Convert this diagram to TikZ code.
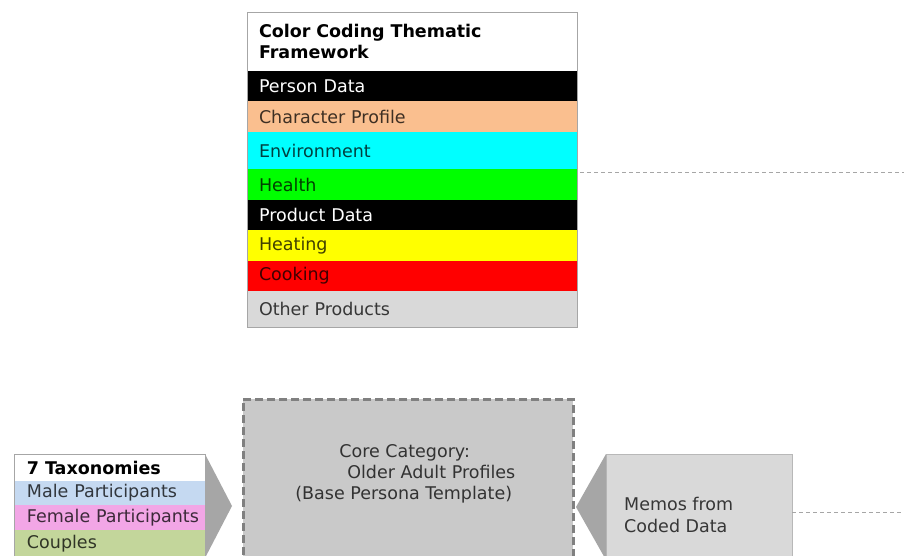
\documentclass[tikz,border=0pt]{standalone}
\usepackage{fontspec}
\setmainfont{DejaVu Sans}
\usetikzlibrary{positioning,calc}
\hyphenpenalty=10000
\exhyphenpenalty=10000
\definecolor{codepeach}{RGB}{250,191,143}
\definecolor{codecyan}{RGB}{0,255,255}
\definecolor{codegreen}{RGB}{0,255,0}
\definecolor{codeyellow}{RGB}{255,255,0}
\definecolor{codered}{RGB}{255,0,0}
\definecolor{codegrey}{RGB}{217,217,217}
\definecolor{taxblue}{RGB}{197,217,241}
\definecolor{taxpink}{RGB}{242,166,230}
\definecolor{taxgreen}{RGB}{195,214,155}
\definecolor{corefill}{RGB}{201,201,201}
\definecolor{coreedge}{RGB}{128,128,128}
\definecolor{chevgrey}{RGB}{166,166,166}
\newcommand{\coderow}[6]{%
 \node[coderow, fill={#3}, minimum height={#4}, #5, below=0pt of {#2}] ({#1}) {#6};%
}
\newcommand{\taxrow}[5]{%
 \node[taxrow, fill={#3}, minimum height={#4}, below=0pt of {#2}] ({#1}) {\hspace*{13pt}#5};%
}

\begin{document}
\begin{tikzpicture}[x=1pt,y=-1pt,
  font=\fontsize{17.5pt}{21pt}\selectfont,
  darktext/.style={text=black, text opacity=.75},
  coderow/.style={text width=306pt, inner xsep=12pt, inner ysep=0pt, outer sep=0pt, align=left},
  taxrow/.style={text width=191pt, inner xsep=0pt, inner ysep=0pt, outer sep=0pt, align=left, darktext},
  tableedge/.style={draw=chevgrey, line width=.8pt},
  chevron/.style={fill=chevgrey},
  corebox/.style={fill=corefill, draw=coreedge, line width=2.6pt, dash pattern=on 8pt off 4pt},
  memobox/.style={fill=codegrey, draw=chevgrey!80, line width=.8pt, outer sep=0pt},
  memotext/.style={inner sep=0pt, align=left, darktext, font=\fontsize{17.5pt}{22pt}\selectfont},
  linkline/.style={draw=chevgrey, line width=.8pt, dash pattern=on 4pt off 3pt}]
   \clip (0,0) rectangle (904,556);
   \fill[white] (0,0) rectangle (904,556);
   % colour coding table
   \node[coderow, anchor=north west, minimum height=59pt, font=\fontsize{17.5pt}{21pt}\selectfont\bfseries] (colorhead) at (247,12) {Color Coding Thematic Framework};
   \coderow{person}{colorhead}{black}{30pt}{text=white}{Person Data}
   \coderow{character}{person}{codepeach}{31pt}{darktext}{Character Profile}
   \coderow{environment}{character}{codecyan}{37pt}{darktext}{Environment}
   \coderow{health}{environment}{codegreen}{31pt}{darktext}{Health}
   \coderow{product}{health}{black}{30pt}{text=white}{Product Data}
   \coderow{heating}{product}{codeyellow}{31pt}{darktext}{Heating}
   \coderow{cooking}{heating}{codered}{30pt}{darktext}{Cooking}
   \coderow{others}{cooking}{codegrey}{36pt}{darktext}{Other Products}
   \draw[tableedge] (colorhead.north west) rectangle (others.south east);
   % taxonomies
   \node[taxrow, anchor=north west, minimum height=27pt, text=black, text opacity=1, font=\fontsize{17.5pt}{21pt}\selectfont\bfseries] (taxhead) at (14,454) {\hspace*{13pt}7 Taxonomies};
   \taxrow{male}{taxhead}{taxblue}{24pt}{Male Participants}
   \taxrow{female}{male}{taxpink}{25pt}{Female Participants}
   \taxrow{couples}{female}{taxgreen}{28pt}{Couples}
   \draw[tableedge] (taxhead.north west) rectangle (couples.south east);
   \coordinate (taxtip) at ($($(taxhead.north east)!.5!(couples.south east)$)+(27,0)$);
   \fill[chevron] (taxhead.north east) -- (taxtip) -- (couples.south east) -- cycle;
   % core category
   \node[corebox, anchor=north west, minimum width=330pt, minimum height=200pt] (core) at (242,398) {};
   \node[darktext, inner sep=0pt, align=left, below=46pt of core.north, xshift=-3pt] (corelabel)
     {\hspace*{44pt}Core Category:\\\hspace*{52pt}Older Adult Profiles\\(Base Persona Template)};
   % memos
   \node[memobox, anchor=north west, minimum width=186pt, minimum height=106pt] (memos) at (606,454) {};
   \node[memotext, anchor=west, right=18pt of memos.west, yshift=-8pt] (memolabel) {Memos from\\Coded Data};
   \coordinate (memotip) at ($(memos.west)+(-30,0)$);
   \fill[chevron] (memos.north west) -- (memotip) -- (memos.south west) -- cycle;
   % dashed links to the right
   \coordinate (edgetop) at (904,172);
   \coordinate (edgebottom) at (904,512);
   \draw[linkline] ($(edgetop -| health.east)+(3,0)$) -- (edgetop);
   \draw[linkline] (edgebottom -| memos.east) -- (edgebottom);
\end{tikzpicture}
\end{document}
